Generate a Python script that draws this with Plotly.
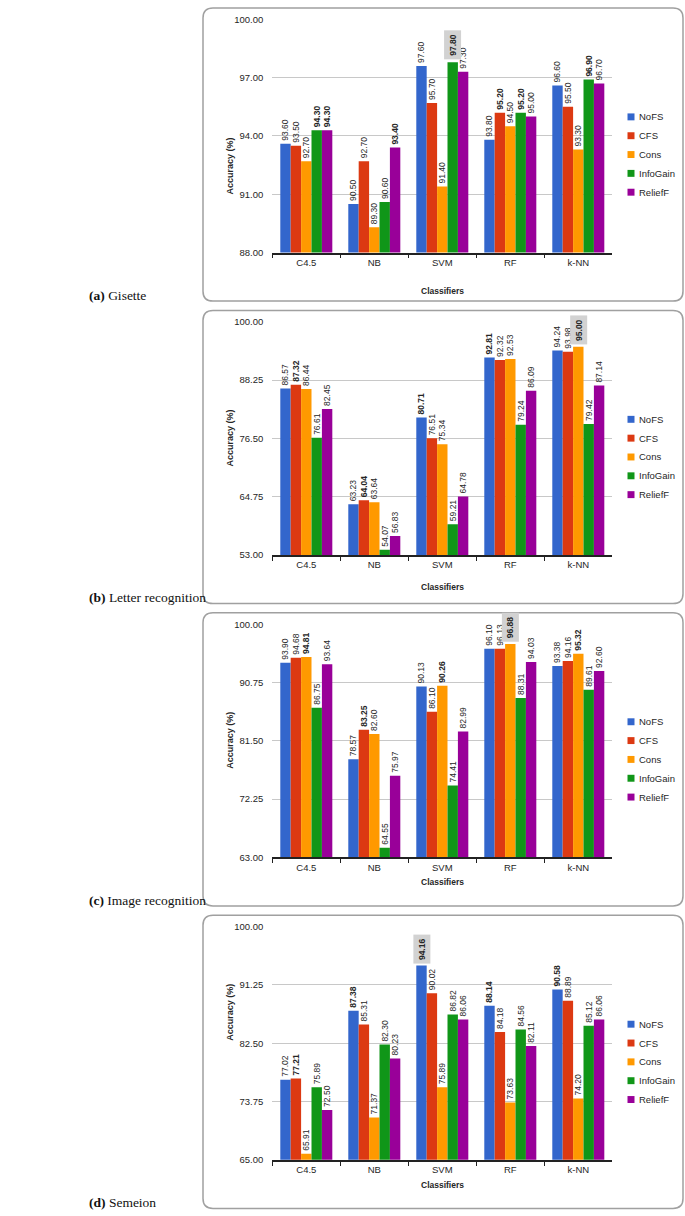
import numpy as np
import plotly.graph_objects as go
from plotly.subplots import make_subplots

W, H = 685, 1216

CLASSIFIERS = ["C4.5", "NB", "SVM", "RF", "k-NN"]
METHODS = ["NoFS", "CFS", "Cons", "InfoGain", "ReliefF"]
COLORS = ["#3366CC", "#DC3912", "#FF9900", "#109618", "#990099"]

# rows follow METHODS, columns follow CLASSIFIERS
GISETTE = [
    [93.60, 90.50, 97.60, 93.80, 96.60],
    [93.50, 92.70, 95.70, 95.20, 95.50],
    [92.70, 89.30, 91.40, 94.50, 93.30],
    [94.30, 90.60, 97.80, 95.20, 96.90],
    [94.30, 93.40, 97.30, 95.00, 96.70],
]
LETTER = [
    [86.57, 63.23, 80.71, 92.81, 94.24],
    [87.32, 64.04, 76.51, 92.32, 93.98],
    [86.44, 63.64, 75.34, 92.53, 95.00],
    [76.61, 54.07, 59.21, 79.24, 79.42],
    [82.45, 56.83, 64.78, 86.09, 87.14],
]
IMAGE = [
    [93.90, 78.57, 90.13, 96.10, 93.38],
    [94.68, 83.25, 86.10, 96.13, 94.16],
    [94.81, 82.60, 90.26, 96.88, 95.32],
    [86.75, 64.55, 74.41, 88.31, 89.61],
    [93.64, 75.97, 82.99, 94.03, 92.60],
]
SEMEION = [
    [77.02, 87.38, 94.16, 88.14, 90.58],
    [77.21, 85.31, 90.02, 84.18, 88.89],
    [65.91, 71.37, 75.89, 73.63, 74.20],
    [75.89, 82.30, 86.82, 84.56, 85.12],
    [72.50, 80.23, 86.06, 82.11, 86.06],
]

DATASETS = [GISETTE, LETTER, IMAGE, SEMEION]
PANEL_TAGS = ["(a)", "(b)", "(c)", "(d)"]
PANEL_NAMES = ["Gisette", "Letter recognition", "Image recognition", "Semeion"]
Y_MIN = [88, 53, 63, 65]

SANS = "Liberation Sans"
TXT = "#262626"
BARGAP = 0.235


def px_x(x):
    return x / W


def px_y(y):
    return 1 - y / H


def rounded_box(x0, y0, x1, y1, r=10):
    rx, ry = r / W, r / H
    a, b = px_x(x0), px_x(x1)
    t, u = px_y(y0), px_y(y1)
    return (
        f"M {a + rx},{t} L {b - rx},{t} Q {b},{t} {b},{t - ry} "
        f"L {b},{u + ry} Q {b},{u} {b - rx},{u} L {a + rx},{u} "
        f"Q {a},{u} {a},{u + ry} L {a},{t - ry} Q {a},{t} {a + rx},{t} Z"
    )


fig = make_subplots(rows=4, cols=1)
annotations = []
shapes = []

plot_left, plot_right = 272.3, 612.3
bar_w = (1 - BARGAP) / len(METHODS)

for p, data in enumerate(DATASETS):
    row = p + 1
    values = np.array(data)
    group_max = values.max(axis=0)
    overall = values.max()
    top = 13.5 + 305.2 * p
    bottom = top + 235.3

    for m, name in enumerate(METHODS):
        labels = []
        for c in range(len(CLASSIFIERS)):
            v = values[m, c]
            s = f"{v:.2f}"
            if v == overall:
                # best result of the whole panel gets a grey badge
                labels.append("")
                annotations.append(dict(
                    x=c - (1 - BARGAP) / 2 + bar_w * (m + 0.5), y=v,
                    xref="x" if row == 1 else f"x{row}",
                    yref="y" if row == 1 else f"y{row}",
                    text=f"<b>{s}</b>", showarrow=False, textangle=-90,
                    yanchor="bottom", xanchor="center", yshift=2,
                    bgcolor="#d2d2d2", borderpad=3,
                    font=dict(family=SANS, size=8.5, color=TXT),
                ))
            elif v == group_max[c]:
                labels.append(f"<b>{s}</b>")
            else:
                labels.append(s)
        fig.add_trace(go.Bar(
            x=CLASSIFIERS, y=values[m], name=name, marker_color=COLORS[m],
            marker_line_width=0, text=labels, texttemplate="%{text}",
            textposition="outside", textangle=-90, constraintext="none",
            cliponaxis=False, showlegend=False,
            textfont=dict(family=SANS, size=8.5, color=TXT),
        ), row=row, col=1)

    ymin = Y_MIN[p]
    fig.update_xaxes(
        row=row, col=1, domain=[px_x(plot_left), px_x(plot_right)],
        type="category", range=[-0.5, 4.5], tickson="boundaries",
        ticks="outside", ticklen=4, tickwidth=1.2, tickcolor="#222",
        showline=True, linecolor="#222", linewidth=1.6, showgrid=False,
        tickfont=dict(family=SANS, size=9.5, color=TXT), fixedrange=True,
    )
    fig.update_yaxes(
        row=row, col=1, domain=[px_y(bottom), px_y(top)],
        range=[ymin, 100], tickvals=list(np.linspace(ymin, 100, 5)),
        tickformat=".2f", showgrid=True, gridcolor="#c8c8c8", gridwidth=1,
        zeroline=False, showline=False, ticklabelstandoff=8,
        tickfont=dict(family=SANS, size=9.5, color=TXT), fixedrange=True,
    )

    box_top, box_bottom = top - 11.5, bottom + 49
    shapes.append(dict(
        type="path", xref="paper", yref="paper",
        path=rounded_box(203, box_top, 683, box_bottom),
        line=dict(color="#a0a0a0", width=1.5), layer="below",
    ))

    annotations.append(dict(
        x=px_x(223), y=px_y((top + bottom) / 2), xref="paper", yref="paper",
        text="<b>Accuracy (%)</b>", showarrow=False, textangle=-90,
        font=dict(family=SANS, size=9, color=TXT),
    ))
    annotations.append(dict(
        x=px_x((plot_left + plot_right) / 2), y=px_y(bottom + 32),
        xref="paper", yref="paper", text="<b>Classifiers</b>", showarrow=False,
        font=dict(family=SANS, size=8.5, color=TXT),
    ))
    annotations.append(dict(
        x=px_x(87), y=px_y(box_bottom - 6), xref="paper", yref="paper",
        xanchor="left", yanchor="middle", showarrow=False,
        text=f"<b>{PANEL_TAGS[p]}</b> {PANEL_NAMES[p]}",
        font=dict(family="Liberation Serif", size=13.5, color="#111"),
    ))

    # legend drawn by hand so the swatch sits right next to its label
    for m, name in enumerate(METHODS):
        ly = top + 98.4 + 19 * m
        shapes.append(dict(
            type="rect", xref="paper", yref="paper",
            x0=px_x(627.5), x1=px_x(634.5), y0=px_y(ly + 3.5), y1=px_y(ly - 3.5),
            fillcolor=COLORS[m], line_width=0,
        ))
        annotations.append(dict(
            x=px_x(636.5), y=px_y(ly), xref="paper", yref="paper",
            xanchor="left", yanchor="middle", showarrow=False, text=name,
            font=dict(family=SANS, size=9.5, color=TXT),
        ))

fig.update_layout(
    template="plotly_white", width=W, height=H,
    margin=dict(l=0, r=0, t=0, b=0),
    barmode="group", bargap=BARGAP, bargroupgap=0,
    plot_bgcolor="white", paper_bgcolor="white",
    annotations=annotations, shapes=shapes, showlegend=False,
)

fig.write_html(
    "out.html",
    config={"displayModeBar": False},
    post_script="document.body.style.margin = '0px';",
)
